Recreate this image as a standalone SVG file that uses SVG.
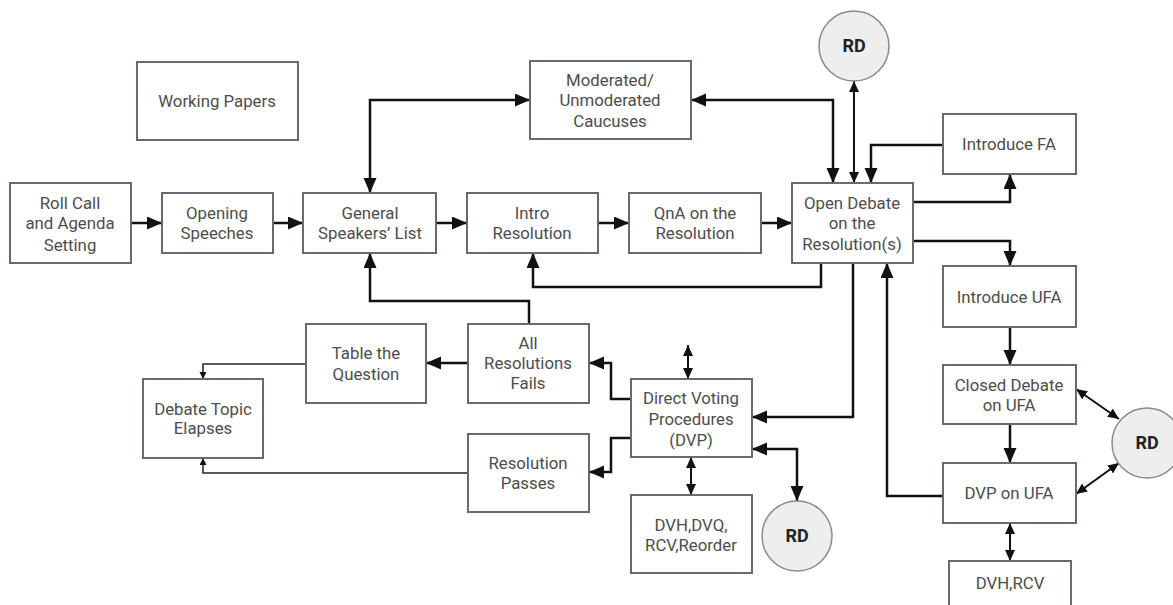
<svg xmlns="http://www.w3.org/2000/svg" width="1173" height="605" viewBox="0 0 1173 605">
<style>
.box{fill:#fff;stroke:#656a74;stroke-width:2}
.t{font-family:Roboto,"Liberation Sans",sans-serif;font-size:16.8px;fill:#4d4d4d;text-anchor:middle}
.rd{fill:#eeeeee;stroke:#8a8a8a;stroke-width:1.5}
.rt{font-family:Roboto,"Liberation Sans",sans-serif;font-size:18px;font-weight:bold;fill:#222;text-anchor:middle}
.c{fill:none;stroke:#111;stroke-width:2.5}
.cs{fill:none;stroke:#111;stroke-width:2}
.ct{fill:none;stroke:#222;stroke-width:1.5}
</style>
<defs>
<marker id="ah" markerUnits="userSpaceOnUse" markerWidth="16" markerHeight="14" refX="15" refY="6.5" orient="auto-start-reverse"><path d="M0,0 L15,6.5 L0,13 z" fill="#111"/></marker>
<marker id="ahs" markerUnits="userSpaceOnUse" markerWidth="12" markerHeight="10" refX="11" refY="5" orient="auto-start-reverse"><path d="M0,0 L11,5 L0,10 z" fill="#111"/></marker>
<marker id="aht" markerUnits="userSpaceOnUse" markerWidth="8" markerHeight="8" refX="7" refY="3.5" orient="auto-start-reverse"><path d="M0,0 L7,3.5 L0,7 z" fill="#111"/></marker>
</defs>
<rect width="1173" height="605" fill="#fff"/>
<g id="connectors">
<path class="c" d="M131,223 H162" marker-end="url(#ah)"/>
<path class="c" d="M273,223 H303" marker-end="url(#ah)"/>
<path class="c" d="M436,223 H467" marker-end="url(#ah)"/>
<path class="c" d="M598,223 H629" marker-end="url(#ah)"/>
<path class="c" d="M761,223 H792" marker-end="url(#ah)"/>
<path class="c" d="M370,193 V100 H530" marker-start="url(#ah)" marker-end="url(#ah)"/>
<path class="c" d="M691,100 H833 V183" marker-start="url(#ah)" marker-end="url(#ah)"/>
<path class="cs" d="M854,81 V183" marker-start="url(#ahs)" marker-end="url(#ahs)"/>
<path class="c" d="M943,145 H871 V183" marker-end="url(#ah)"/>
<path class="c" d="M913,202 H1010 V174" marker-end="url(#ah)"/>
<path class="c" d="M913,241 H1010 V266" marker-end="url(#ah)"/>
<path class="c" d="M1010,327 V365" marker-end="url(#ah)"/>
<path class="c" d="M1010,424 V463" marker-end="url(#ah)"/>
<path class="cs" d="M1010,523 V561" marker-start="url(#ahs)" marker-end="url(#ahs)"/>
<path class="cs" d="M1076,389 L1119,419" marker-start="url(#ahs)" marker-end="url(#ahs)"/>
<path class="cs" d="M1076,494 L1119,463" marker-start="url(#ahs)" marker-end="url(#ahs)"/>
<path class="c" d="M943,496 H887 V263" marker-end="url(#ah)"/>
<path class="c" d="M821,263 V287 H533 V253" marker-end="url(#ah)"/>
<path class="c" d="M853,263 V417 H752" marker-end="url(#ah)"/>
<path class="c" d="M752,449 H797 V501" marker-start="url(#ah)" marker-end="url(#ah)"/>
<path class="cs" d="M688,345 V379" marker-start="url(#ahs)" marker-end="url(#ahs)"/>
<path class="cs" d="M691,457 V495" marker-start="url(#ahs)" marker-end="url(#ahs)"/>
<path class="c" d="M631,399 H611 V363 H589" marker-end="url(#ah)"/>
<path class="c" d="M631,438 H611 V472 H589" marker-end="url(#ah)"/>
<path class="c" d="M468,363 H426" marker-end="url(#ah)"/>
<path class="c" d="M529,324 V301 H370 V253" marker-end="url(#ah)"/>
<path class="ct" d="M306,364 H203 V379" marker-end="url(#aht)"/>
<path class="ct" d="M468,473 H203 V458" marker-end="url(#aht)"/>
</g>
<g id="working-papers"><rect class="box" x="137" y="62" width="161" height="78"/><text class="t" x="217" y="107">Working Papers</text></g>
<g id="roll-call"><rect class="box" x="10" y="183" width="121" height="80"/><text class="t" x="70" y="209">Roll Call</text><text class="t" x="70" y="229">and Agenda</text><text class="t" x="70" y="251">Setting</text></g>
<g id="opening"><rect class="box" x="162" y="193" width="111" height="60"/><text class="t" x="217" y="219">Opening</text><text class="t" x="217" y="239">Speeches</text></g>
<g id="gsl"><rect class="box" x="303" y="193" width="133" height="60"/><text class="t" x="370" y="219">General</text><text class="t" x="370" y="239">Speakers’ List</text></g>
<g id="moderated"><rect class="box" x="530" y="61" width="161" height="78"/><text class="t" x="610" y="86">Moderated/</text><text class="t" x="610" y="106">Unmoderated</text><text class="t" x="610" y="127">Caucuses</text></g>
<g id="intro-resolution"><rect class="box" x="467" y="193" width="131" height="60"/><text class="t" x="532" y="219">Intro</text><text class="t" x="532" y="239">Resolution</text></g>
<g id="qna"><rect class="box" x="629" y="193" width="132" height="60"/><text class="t" x="695" y="219">QnA on the</text><text class="t" x="695" y="239">Resolution</text></g>
<g id="open-debate"><rect class="box" x="792" y="183" width="121" height="80"/><text class="t" x="852" y="209">Open Debate</text><text class="t" x="852" y="229">on the</text><text class="t" x="852" y="250">Resolution(s)</text></g>
<g id="rd-top"><circle class="rd" cx="854" cy="46" r="35"/><text class="rt" x="854" y="52">RD</text></g>
<g id="introduce-fa"><rect class="box" x="943" y="114" width="133" height="60"/><text class="t" x="1009" y="150">Introduce FA</text></g>
<g id="introduce-ufa"><rect class="box" x="943" y="266" width="133" height="61"/><text class="t" x="1009" y="303">Introduce UFA</text></g>
<g id="closed-debate"><rect class="box" x="943" y="365" width="133" height="59"/><text class="t" x="1009" y="391">Closed Debate</text><text class="t" x="1009" y="411">on UFA</text></g>
<g id="dvp-ufa"><rect class="box" x="943" y="463" width="133" height="60"/><text class="t" x="1009" y="499">DVP on UFA</text></g>
<g id="dvh-rcv"><rect class="box" x="949" y="561" width="122" height="60"/><text class="t" x="1010" y="589">DVH,RCV</text></g>
<g id="rd-right"><circle class="rd" cx="1147" cy="443" r="35"/><text class="rt" x="1147" y="449">RD</text></g>
<g id="table-question"><rect class="box" x="306" y="324" width="120" height="79"/><text class="t" x="366" y="359">Table the</text><text class="t" x="366" y="380">Question</text></g>
<g id="all-fails"><rect class="box" x="468" y="324" width="121" height="79"/><text class="t" x="528" y="349">All</text><text class="t" x="528" y="369">Resolutions</text><text class="t" x="528" y="389">Fails</text></g>
<g id="debate-topic"><rect class="box" x="143" y="379" width="120" height="79"/><text class="t" x="203" y="415">Debate Topic</text><text class="t" x="203" y="434">Elapses</text></g>
<g id="resolution-passes"><rect class="box" x="468" y="434" width="121" height="78"/><text class="t" x="528" y="469">Resolution</text><text class="t" x="528" y="489">Passes</text></g>
<g id="dvp"><rect class="box" x="631" y="379" width="121" height="78"/><text class="t" x="691" y="404">Direct Voting</text><text class="t" x="691" y="425">Procedures</text><text class="t" x="691" y="446">(DVP)</text></g>
<g id="dvh-dvq"><rect class="box" x="631" y="495" width="121" height="78"/><text class="t" x="691" y="531">DVH,DVQ,</text><text class="t" x="691" y="551">RCV,Reorder</text></g>
<g id="rd-bottom"><circle class="rd" cx="797" cy="536" r="35"/><text class="rt" x="797" y="542">RD</text></g>
</svg>
